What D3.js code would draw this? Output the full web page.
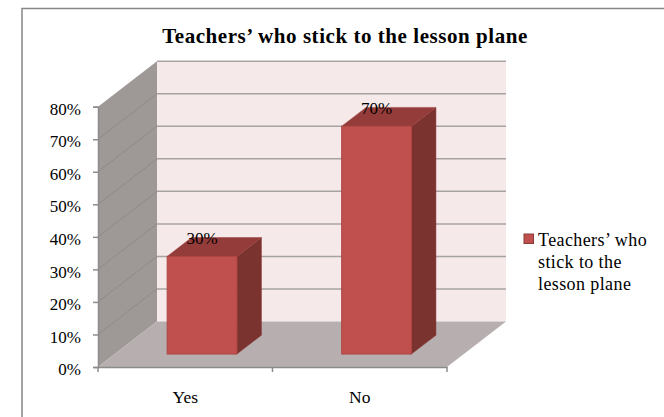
<!DOCTYPE html>
<html>
<head>
<meta charset="utf-8">
<script src="https://cdn.jsdelivr.net/npm/d3@7"></script>
<style>
  html, body { margin: 0; padding: 0; background: #fff; }
  svg { display: block; }
  text { font-family: "Liberation Serif", serif; fill: #000; }
</style>
</head>
<body>
<div class="container"></div>
<script>
const categories = ['Yes', 'No'];
const values = [30, 70];
const valueLabels = ['30%', '70%'];
const tickValues = [0, 10, 20, 30, 40, 50, 60, 70, 80];
const legendLines = ['Teachers\u2019 who', 'stick to the', 'lesson plane'];
const chartTitle = 'Teachers\u2019 who stick to the lesson plane';

const width = 664;
const height = 417;

// front edge of the floor and how far the box goes back
const left = 98, right = 447, baseY = 367, topY = 106.7;
const depthX = 59, depthY = 45.5;

const xScale = d3.scaleBand()
    .domain(categories)
    .range([left, right])
    .paddingInner(0.6)
    .paddingOuter(0.3);

const yScale = d3.scaleLinear()
    .domain([0, 80])
    .range([baseY, topY]);

const svg = d3.select('.container')
    .append('svg')
    .attr('width', width)
    .attr('height', height);

// frame
svg.append('path')
    .attr('d', `M22,${height}V8.5H${width}`)
    .attr('fill', 'none')
    .attr('stroke', '#868686')
    .attr('stroke-width', 1.5);

svg.append('text')
    .attr('x', 345)
    .attr('y', 43)
    .attr('text-anchor', 'middle')
    .style('font-size', '21px')
    .style('font-weight', 'bold')
    .style('letter-spacing', '0.55px')
    .text(chartTitle);

// walls and floor
const pts = a => a.map(p => p.join(',')).join(' ');
svg.append('polygon')
    .attr('points', pts([[left + depthX, yScale(80) - depthY], [right + depthX, yScale(80) - depthY], [right + depthX, baseY - depthY], [left + depthX, baseY - depthY]]))
    .attr('fill', '#f5e9e9');
svg.append('polygon')
    .attr('points', pts([[left, yScale(80)], [left + depthX, yScale(80) - depthY], [left + depthX, baseY - depthY], [left, baseY]]))
    .attr('fill', '#9e9897');
svg.append('polygon')
    .attr('points', pts([[left, baseY], [left + depthX, baseY - depthY], [right + depthX, baseY - depthY], [right, baseY]]))
    .attr('fill', '#b7afaf');

// gridlines on both walls
svg.selectAll('.grid-side')
    .data(tickValues.slice(1, -1))
    .enter()
    .append('line')
    .attr('class', 'grid-side')
    .attr('stroke', '#8f8a89')
    .attr('stroke-width', 1)
    .attr('x1', left)
    .attr('y1', d => yScale(d))
    .attr('x2', left + depthX)
    .attr('y2', d => yScale(d) - depthY);

svg.selectAll('.grid')
    .data(tickValues.slice(1))
    .enter()
    .append('line')
    .attr('class', 'grid')
    .attr('stroke', '#a8a3a3')
    .attr('stroke-width', 1.5)
    .attr('x1', left + depthX)
    .attr('y1', d => yScale(d) - depthY)
    .attr('x2', right + depthX)
    .attr('y2', d => yScale(d) - depthY);

// axes
const yAxis = d3.axisLeft(yScale)
    .tickValues(tickValues)
    .tickFormat(d => d + '%')
    .tickSize(5)
    .tickPadding(12);
const yG = svg.append('g')
    .attr('transform', `translate(${left}, 0)`)
    .call(yAxis);
yG.selectAll('text')
    .attr('dy', '0.45em')
    .style('font-size', '17px');

const xAxis = d3.axisBottom(xScale)
    .tickValues([])
    .tickSizeOuter(0);
svg.append('g')
    .attr('transform', `translate(0, ${baseY})`)
    .call(xAxis);

// category separators sit between the bands, so draw those by hand from the scale
const step = xScale.step();
svg.selectAll('.xtick')
    .data([0, 1, 2])
    .enter()
    .append('line')
    .attr('class', 'xtick')
    .attr('x1', d => left + d * step)
    .attr('x2', d => left + d * step)
    .attr('y1', baseY)
    .attr('y2', baseY + 5);

svg.selectAll('.domain, .tick line, .xtick')
    .attr('stroke', '#8c8c8c')
    .attr('stroke-width', 1.5);

svg.selectAll('.xlabel')
    .data(categories)
    .enter()
    .append('text')
    .attr('class', 'xlabel')
    .attr('x', d => xScale(d) + xScale.bandwidth() / 2)
    .attr('y', 402.5)
    .attr('text-anchor', 'middle')
    .style('font-size', '17.5px')
    .text(d => d);

// bars sit partway into the floor depth
const barFront = 0.285, barBack = 0.70;
const fx = barFront * depthX, fy = barFront * depthY;
const dx = (barBack - barFront) * depthX, dy = (barBack - barFront) * depthY;

const bars = svg.selectAll('.bar')
    .data(categories.map((c, i) => ({ c, v: values[i], label: valueLabels[i] })))
    .enter()
    .append('g')
    .attr('class', 'bar')
    .attr('transform', `translate(${fx}, ${-fy})`);

bars.append('polygon')
    .attr('fill', '#7b3330')
    .attr('stroke', '#8a3a37')
    .attr('stroke-width', 0.5)
    .attr('points', d => {
        const x1 = xScale(d.c) + xScale.bandwidth();
        return pts([[x1, yScale(d.v)], [x1 + dx, yScale(d.v) - dy], [x1 + dx, baseY - dy], [x1, baseY]]);
    });
bars.append('polygon')
    .attr('fill', '#943c39')
    .attr('stroke', '#9a4340')
    .attr('stroke-width', 0.5)
    .attr('points', d => {
        const x0 = xScale(d.c), x1 = x0 + xScale.bandwidth();
        return pts([[x0, yScale(d.v)], [x0 + dx, yScale(d.v) - dy], [x1 + dx, yScale(d.v) - dy], [x1, yScale(d.v)]]);
    });
bars.append('rect')
    .attr('x', d => xScale(d.c))
    .attr('y', d => yScale(d.v))
    .attr('width', xScale.bandwidth())
    .attr('height', d => baseY - yScale(d.v))
    .attr('fill', '#c0504d')
    .attr('stroke', '#ad4643')
    .attr('stroke-width', 1);
bars.append('text')
    .attr('x', d => xScale(d.c) + xScale.bandwidth() / 2)
    .attr('y', d => yScale(d.v) - 12.5)
    .attr('text-anchor', 'middle')
    .style('font-size', '17px')
    .text(d => d.label);

// legend
svg.append('rect')
    .attr('x', 524)
    .attr('y', 234)
    .attr('width', 9.5)
    .attr('height', 9.5)
    .attr('fill', '#c0504d')
    .attr('stroke', '#8a3a37');

svg.selectAll('.legend')
    .data(legendLines)
    .enter()
    .append('text')
    .attr('class', 'legend')
    .attr('x', 538)
    .attr('y', (d, i) => 246 + i * 22)
    .style('font-size', '18px')
    .style('letter-spacing', '0.4px')
    .text(d => d);
</script>
</body>
</html>
